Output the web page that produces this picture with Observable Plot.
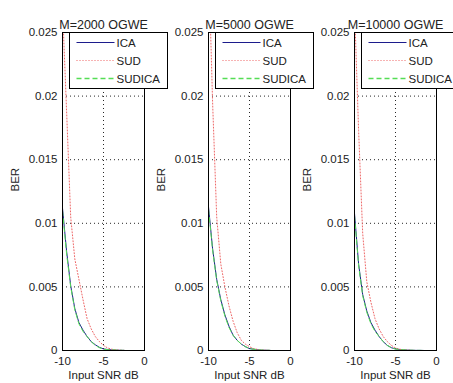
<!DOCTYPE html>
<html>
<head>
<meta charset="utf-8">
<script src="https://cdn.jsdelivr.net/npm/d3@7"></script>
<script src="https://cdn.jsdelivr.net/npm/@observablehq/plot@0.6"></script>
<style>
  html, body { margin: 0; padding: 0; background: white; }
  #fig { position: relative; width: 453px; height: 383px; background: white; overflow: hidden; }
</style>
</head>
<body>
<div id="fig"></div>
<script>
// ---- data ----
const titles = ["M=2000 OGWE", "M=5000 OGWE", "M=10000 OGWE"];
const seriesNames = ["ICA", "SUD", "SUDICA"];
const xTicks = [-10, -5, 0];
const yTicks = [0, 0.005, 0.01, 0.015, 0.02, 0.025];

const snr1 = [-10, -9.5, -9, -8.5, -8, -7.5, -7, -6.5, -6, -5.5, -5, -4.5, -4, -3.5, -3, -2.5];
const ica1 = [0.0112, 0.0078, 0.0051, 0.0033, 0.0022, 0.0016, 0.0011, 0.0007, 0.00045, 0.00025, 0.00012, 0.00008, 0.00005, 0.00003, 0.00002, 0.00001];
const sud1 = [0.027, 0.0188, 0.0105, 0.0072, 0.0056, 0.0040, 0.0025, 0.0017, 0.0011, 0.0007, 0.0004, 0.0002, 0.0001, 0.00005, 0.00002, 0.00001];
const sudica1 = [0.0110, 0.0076, 0.0050, 0.0032, 0.0021, 0.0015, 0.0011, 0.0007, 0.0004, 0.00022, 0.0001, 0.00007, 0.00005, 0.00003, 0.00002, 0.00001];

const snr2 = [-10, -9.5, -9, -8.5, -8, -7.5, -7, -6.5, -6, -5.5, -5, -4.5, -4, -3.5, -3, -2.5];
const ica2 = [0.0113, 0.0080, 0.0056, 0.0040, 0.0028, 0.0019, 0.0012, 0.0008, 0.0005, 0.0003, 0.00015, 0.0001, 0.00006, 0.00003, 0.00002, 0.00001];
const sud2 = [0.031, 0.0195, 0.0105, 0.0068, 0.0050, 0.0035, 0.0023, 0.0014, 0.0008, 0.0005, 0.0003, 0.00015, 0.00008, 0.00004, 0.00002, 0.00001];
const sudica2 = [0.0111, 0.0079, 0.0055, 0.0039, 0.0027, 0.0018, 0.0012, 0.0008, 0.0005, 0.0003, 0.00015, 0.0001, 0.00006, 0.00003, 0.00002, 0.00001];

const snr3 = [-10, -9.5, -9, -8.5, -8, -7.5, -7, -6.5, -6, -5.5, -5, -4.5, -4, -3.5, -3, -2.5, -2, -1.5];
const ica3 = [0.0108, 0.0068, 0.0044, 0.0031, 0.0022, 0.0016, 0.0011, 0.0007, 0.0004, 0.00022, 0.00012, 0.00008, 0.00005, 0.00003, 0.00002, 0.00001, 0.00001, 0];
const sud3 = [0.027, 0.0173, 0.0092, 0.0054, 0.0038, 0.0025, 0.0017, 0.0011, 0.0007, 0.0004, 0.0002, 0.0001, 0.00005, 0.00003, 0.00001, 0, 0, 0];
const sudica3 = [0.0106, 0.0067, 0.0043, 0.0030, 0.0021, 0.0015, 0.0011, 0.0007, 0.0004, 0.00022, 0.00012, 0.00008, 0.00005, 0.00003, 0.00002, 0.00001, 0.00001, 0];

const panels = [
  {title: titles[0], snr: snr1, ica: ica1, sud: sud1, sudica: sudica1},
  {title: titles[1], snr: snr2, ica: ica2, sud: sud2, sudica: sudica2},
  {title: titles[2], snr: snr3, ica: ica3, sud: sud3, sudica: sudica3}
];

// ---- styles ----
const colors = {ICA: "#1c1c8c", SUD: "#ee6666", SUDICA: "#55dd55"};
const dashes = {ICA: null, SUD: "1,2", SUDICA: "5,3"};
const font = "'Liberation Sans', Arial, Helvetica, sans-serif";
const fs = 11.5;
const fsTitle = 12.5;
const fsLegend = 11.5;
const ink = "#222";

const fig = document.getElementById("fig");
const lefts = [0, 146, 292];
const widths = [146, 146, 161];

panels.forEach((p, i) => {
  const rows = s => p.snr.map((x, k) => ({x, y: p[s][k]}));
  const W = widths[i];
  const lineMark = (key, name) => Plot.line(rows(key), {
    x: "x", y: "y", stroke: colors[name], strokeWidth: 1,
    strokeDasharray: dashes[name] || undefined, clip: true
  });
  const chart = Plot.plot({
    width: W,
    height: 383,
    marginLeft: 62,
    marginRight: W - 62 - 82,
    marginTop: 32,
    marginBottom: 33,
    style: {background: "transparent", overflow: "visible", fontFamily: font, fontSize: fs + "px", color: ink},
    x: {domain: [-10, 0]},
    y: {domain: [0, 0.025]},
    marks: [
      Plot.gridY([0.005, 0.01, 0.015, 0.02], {stroke: "black", strokeOpacity: 0.85, strokeDasharray: "1,3"}),
      Plot.gridX([-5], {stroke: "black", strokeOpacity: 0.85, strokeDasharray: "1,3"}),
      lineMark("ica", "ICA"),
      lineMark("sud", "SUD"),
      lineMark("sudica", "SUDICA"),
      Plot.frame({stroke: "black"}),
      Plot.axisY({ticks: yTicks, tickSize: 0, tickPadding: 5, tickFormat: d => String(d), label: null, fontSize: fs, fill: ink}),
      Plot.axisX({ticks: xTicks, tickSize: 0, tickPadding: 6.5, tickFormat: d => String(d), label: null, fontSize: fs, fill: ink}),
      Plot.text([p.title], {frameAnchor: "top", dy: -12, fontSize: fsTitle, fill: ink}),
      Plot.text(["Input SNR dB"], {frameAnchor: "bottom", dy: 28, fontSize: fs, fill: ink}),
      Plot.text(["BER"], {frameAnchor: "left", dx: -47, rotate: -90, fontSize: fs, fill: ink})
    ]
  });
  chart.style.position = "absolute";
  chart.style.left = lefts[i] + "px";
  chart.style.top = "0px";
  chart.style.maxWidth = "none";
  fig.appendChild(chart);

  // legend box (inside the axes, top-left, overflowing to the right like the original)
  const svg = d3.select(chart);
  const g = svg.append("g").attr("transform", `translate(${62 + 7.5},${32.5})`);
  g.append("rect").attr("width", 98).attr("height", 56).attr("fill", "white").attr("stroke", "black");
  seriesNames.forEach((name, k) => {
    const y = 10 + k * 18;
    g.append("line").attr("x1", 7).attr("x2", 45).attr("y1", y).attr("y2", y)
      .attr("stroke", colors[name]).attr("stroke-width", name === "SUDICA" ? 1.5 : 1)
      .attr("stroke-dasharray", dashes[name]);
    g.append("text").attr("x", 47).attr("y", y).attr("dy", "0.35em")
      .attr("text-anchor", "start")
      .attr("font-family", font).attr("font-size", fsLegend).attr("fill", ink).text(name);
  });
});
</script>
</body>
</html>
